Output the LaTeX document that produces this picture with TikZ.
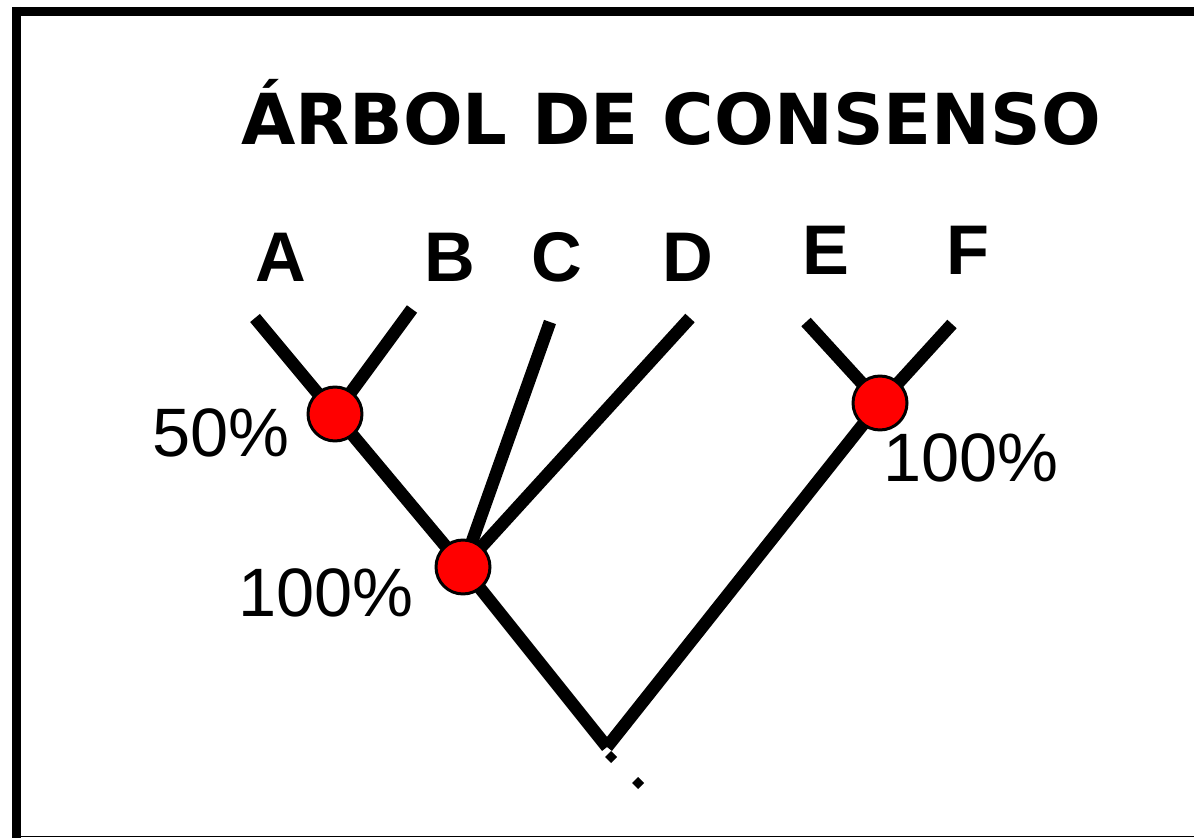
\documentclass[tikz,border=0pt]{standalone}
\usepackage{fontspec}
\setmainfont{Liberation Sans}
\newfontfamily\titlefont{DejaVu Sans}
\tikzset{
  branch/.style={line width=7.2pt},
  support/.style={circle,draw=black,line width=1.7pt,fill=red,minimum size=1.08cm,inner sep=0pt},
  taxon/.style={anchor=base,font=\fontsize{40}{48}\selectfont\bfseries},
  pct/.style={anchor=base,font=\fontsize{39}{46}\selectfont}
}
\begin{document}
\begin{tikzpicture}[x=0.02cm,y=-0.02cm]
        \useasboundingbox (0,0) rectangle (1194,838);
        % frame
        \draw[line width=5.1pt] (12,11.5) -- (1194,11.5);
        \draw[line width=5.1pt] (16.5,7) -- (16.5,838);
        \draw[line width=1.1pt] (12,836.5) -- (1194,836.5);

        \node[anchor=base] (title) at (671,145) {\titlefont\fontsize{40}{48}\selectfont\bfseries ÁRBOL DE CONSENSO};

        % leaf ends, junctions and root
        \coordinate (tA) at (255,318);
        \coordinate (tB) at (412,309);
        \coordinate (tC) at (550,322);
        \coordinate (tD) at (690,318);
        \coordinate (tE) at (806,322);
        \coordinate (tF) at (952,324);
        \coordinate (jAB) at (335,414);
        \coordinate (jABCD) at (463,567);
        \coordinate (jEF) at (880,403);
        \coordinate (root) at (607,747);

        \draw[branch] (tA) -- (jAB);
        \draw[branch] (tB) -- (jAB);
        \draw[branch] (jAB) -- (jABCD);
        \draw[branch] (tC) -- (jABCD);
        \draw[branch] (tD) -- (jABCD);
        \draw[branch] (jABCD) -- (root);
        \draw[branch] (tE) -- (jEF);
        \draw[branch] (tF) -- (jEF);
        \draw[branch] (jEF) -- (root);

        \node[support] (nAB) at (jAB) {};
        \node[support] (nABCD) at (jABCD) {};
        \node[support] (nEF) at (jEF) {};

        \node[taxon] (A) at (281,281) {A};
        \node[taxon] (B) at (450,281) {B};
        \node[taxon] (C) at (557,281) {C};
        \node[taxon] (D) at (688,281) {D};
        \node[taxon] (E) at (826,274) {E};
        \node[taxon] (F) at (968,274) {F};

        \node[pct] (pAB) at (221,456) {50\%};
        \node[pct] (pABCD) at (326,616) {100\%};
        \node[pct] (pEF) at (971,481) {100\%};

        % stray marks below the root
        \fill (605,757) -- (611,751) -- (617,757) -- (611,763) -- cycle;
        \fill (632,783) -- (638,777) -- (644,783) -- (638,789) -- cycle;
    \end{tikzpicture}
\end{document}
